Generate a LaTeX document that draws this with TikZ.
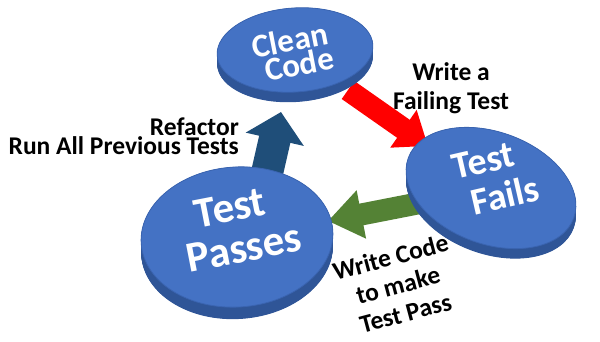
\documentclass[tikz,border=0pt]{standalone}
\usepackage{fontspec}
\setmainfont{Carlito}
\usetikzlibrary{arrows.meta,shapes.geometric}
\definecolor{disktopc}{HTML}{4472C4}
\definecolor{disksidec}{HTML}{2F5597}
\definecolor{diskedgec}{HTML}{3A64B0}
\definecolor{redc}{HTML}{FF0000}
\definecolor{greenc}{HTML}{548235}
\definecolor{bluec}{HTML}{1F4E79}
\newcommand\mydisk[7]{%
  \foreach \d in {0,0.5,...,#7}{%
    \fill[disksidec, rotate around={#6:(#2,#3+\d)}] (#2,#3+\d) ellipse [x radius=#4pt, y radius=#5pt];
  }%
  \node[disktop, minimum width=2*#4pt, minimum height=2*#5pt, rotate=#6] (#1) at (#2,#3) {};
}
\tikzset{
  disktop/.style={ellipse, inner sep=0pt, fill=disktopc, draw=diskedgec, line width=0.8pt},
  disktext/.style={text=white, font=\fontsize{#1}{#1}\selectfont\bfseries, inner sep=0pt},
  lbl/.style={text=black, font=\fontsize{25.5}{29}\selectfont\bfseries, inner sep=0pt},
  blockarrow/.style={line cap=butt, line width=#1}
}
\begin{document}
\begin{tikzpicture}[x=1pt,y=-1pt]
\useasboundingbox (0,0) rectangle (600,342);
% arrow end points
\coordinate (rS) at (348,90);
\coordinate (rE) at (428,146);
\coordinate (bS) at (262,195);
\coordinate (bE) at (281,112);
\coordinate (gS) at (420,203);
\coordinate (gE) at (328,221);
% arrows (behind disks)
\draw[blockarrow=22pt, redc, -{Triangle[width=44pt,length=30pt]}] (rS) -- (rE);
\draw[blockarrow=32pt, bluec, -{Triangle[width=58pt,length=28pt]}] (bS) -- (bE);
\draw[blockarrow=22pt, greenc, -{Triangle[width=47pt,length=34pt]}] (gS) -- (gE);
% disks
\mydisk{clean}{295}{50}{78}{42}{4}{10}
\mydisk{fails}{491}{188}{88}{56}{-20}{10}
\mydisk{passes}{237}{237}{96}{70}{4}{12}
% disk texts
\node[disktext=33, rotate=11] (cleanA) at (290,40) {Clean};
\node[disktext=33, rotate=11] (cleanB) at (299,64) {Code};
\node[disktext=38, rotate=13] (failsA) at (483,161) {Test};
\node[disktext=38, rotate=13] (failsB) at (505,195) {Fails};
\node[disktext=43, rotate=11] (passesA) at (230,208) {Test};
\node[disktext=43, rotate=11] (passesB) at (244,248) {Passes};
% labels
\node[lbl, align=center] (wfail) at (451,88) {Write a\\Failing Test};
\node[lbl, align=right, anchor=east, font=\fontsize{25.5}{19}\selectfont\bfseries] (refac) at (239,136) {Refactor\\Run All Previous Tests};
\node[lbl, align=center, rotate=15] (wcode) at (398,285) {Write Code\\to make\\Test Pass};
\end{tikzpicture}
\end{document}
